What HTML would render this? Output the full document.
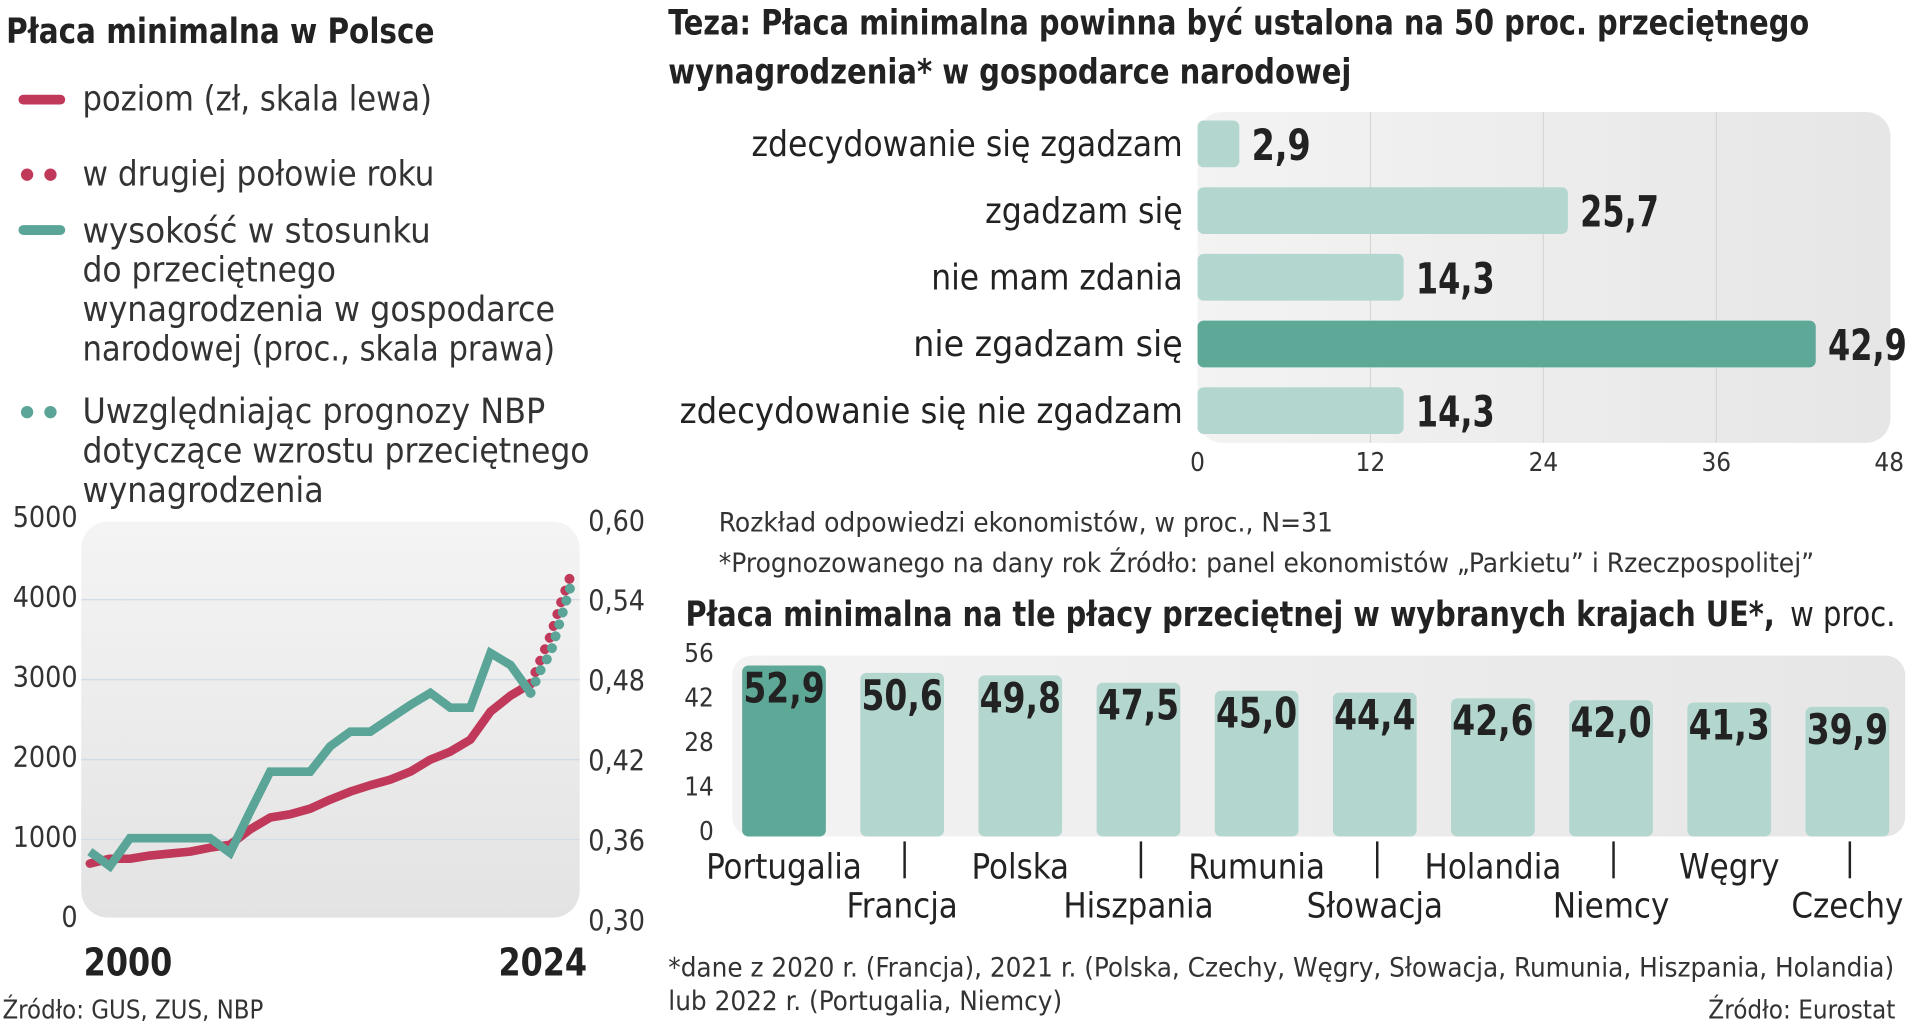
<!DOCTYPE html>
<html><head><meta charset="utf-8"><style>
html,body{margin:0;padding:0;background:#fff;}
svg{display:block;}
text{font-family:"Liberation Sans Narrow","DejaVu Sans Condensed","Liberation Sans",sans-serif;fill:#222;}
.b{font-weight:bold;}
.l{fill:#333;}
</style></head><body>
<svg id="root" width="1920" height="1021" viewBox="0 0 1560 830" preserveAspectRatio="none" xmlns="http://www.w3.org/2000/svg">
<defs>
<linearGradient id="bg" x1="0" y1="0" x2="0" y2="1"><stop offset="0" stop-color="#f4f4f4"/><stop offset="1" stop-color="#e3e3e3"/></linearGradient>
<linearGradient id="bg2" x1="0" y1="0" x2="1" y2="0"><stop offset="0" stop-color="#f3f3f3"/><stop offset="1" stop-color="#e6e6e6"/></linearGradient>
</defs>
<text class="b" x="5" y="35" font-size="28" textLength="348" lengthAdjust="spacingAndGlyphs">Płaca minimalna w Polsce</text>
<g>
 <line x1="19" y1="81" x2="49" y2="81" stroke="#c0395a" stroke-width="8" stroke-linecap="round"/>
 <text class="l" x="67" y="90" font-size="28" textLength="284" lengthAdjust="spacingAndGlyphs">poziom (zł, skala lewa)</text>
 <circle cx="22" cy="142" r="5" fill="#c0395a"/><circle cx="41" cy="142" r="5" fill="#c0395a"/>
 <text class="l" x="67" y="151" font-size="28" textLength="286" lengthAdjust="spacingAndGlyphs">w drugiej połowie roku</text>
 <line x1="19" y1="187" x2="49" y2="187" stroke="#5aa597" stroke-width="8" stroke-linecap="round"/>
 <text class="l" x="67" y="197" font-size="28" textLength="283" lengthAdjust="spacingAndGlyphs">wysokość w stosunku</text>
 <text class="l" x="67" y="229" font-size="28" textLength="206" lengthAdjust="spacingAndGlyphs">do przeciętnego</text>
 <text class="l" x="67" y="261" font-size="28" textLength="384" lengthAdjust="spacingAndGlyphs">wynagrodzenia w gospodarce</text>
 <text class="l" x="67" y="293" font-size="28" textLength="384" lengthAdjust="spacingAndGlyphs">narodowej (proc., skala prawa)</text>
 <circle cx="22" cy="335" r="5" fill="#5aa597"/><circle cx="41" cy="335" r="5" fill="#5aa597"/>
 <text class="l" x="67" y="344" font-size="28" textLength="376" lengthAdjust="spacingAndGlyphs">Uwzględniając prognozy NBP</text>
 <text class="l" x="67" y="376" font-size="28" textLength="412" lengthAdjust="spacingAndGlyphs">dotyczące wzrostu przeciętnego</text>
 <text class="l" x="67" y="408" font-size="28" textLength="196" lengthAdjust="spacingAndGlyphs">wynagrodzenia</text>
</g>
<rect x="66" y="424" width="405" height="322" rx="22" fill="url(#bg)"/>
<g id="lineChart"></g>
<text class="b" x="68" y="793" font-size="31" textLength="72" lengthAdjust="spacingAndGlyphs">2000</text>
<text class="b" x="405" y="793" font-size="31" textLength="72" lengthAdjust="spacingAndGlyphs">2024</text>
<text class="l" x="2" y="828" font-size="21" textLength="212" lengthAdjust="spacingAndGlyphs">Źródło: GUS, ZUS, NBP</text>

<text class="b" x="543" y="28" font-size="28" textLength="927" lengthAdjust="spacingAndGlyphs">Teza: Płaca minimalna powinna być ustalona na 50 proc. przeciętnego</text>
<text class="b" x="543" y="68" font-size="28" textLength="555" lengthAdjust="spacingAndGlyphs">wynagrodzenia* w gospodarce narodowej</text>
<rect x="973" y="91" width="563" height="269" rx="20" fill="url(#bg2)"/>
<g id="barChart"></g>
<text class="l" x="584" y="432" font-size="22" textLength="499" lengthAdjust="spacingAndGlyphs">Rozkład odpowiedzi ekonomistów, w proc., N=31</text>
<text class="l" x="584" y="465" font-size="22" textLength="890" lengthAdjust="spacingAndGlyphs">*Prognozowanego na dany rok Źródło: panel ekonomistów „Parkietu” i  Rzeczpospolitej”</text>

<text x="557" y="509" font-size="28"><tspan class="b" textLength="885" lengthAdjust="spacingAndGlyphs">Płaca minimalna na tle płacy przeciętnej w wybranych krajach UE*,</tspan><tspan x="1447" textLength="93" lengthAdjust="spacingAndGlyphs"> w proc.</tspan></text>
<rect x="595" y="533" width="953" height="147" rx="16" fill="url(#bg2)"/>
<g id="colChart"></g>
<text class="l" x="543" y="794" font-size="22" textLength="996" lengthAdjust="spacingAndGlyphs">*dane z 2020 r. (Francja), 2021 r. (Polska, Czechy, Węgry, Słowacja, Rumunia, Hiszpania, Holandia)</text>
<text class="l" x="543" y="821" font-size="22" textLength="320" lengthAdjust="spacingAndGlyphs">lub 2022 r. (Portugalia, Niemcy)</text>
<text class="l" x="1388" y="828" font-size="21" textLength="152" lengthAdjust="spacingAndGlyphs">Źródło:  Eurostat</text>
</svg>
<script>
const NS='http://www.w3.org/2000/svg';
const years=[2000,2001,2002,2003,2004,2005,2006,2007,2008,2009,2010,2011,2012,2013,2014,2015,2016,2017,2018,2019,2020,2021,2022];
const wageLevel=[700,760,760,800,824,849,899,936,1126,1276,1317,1386,1500,1600,1680,1750,1850,2000,2100,2250,2600,2800,2950];
const ratio=[0.351,0.340,0.361,0.361,0.361,0.361,0.361,0.350,0.381,0.411,0.411,0.411,0.430,0.441,0.441,0.451,0.461,0.470,0.459,0.459,0.500,0.491,0.470];
const forecastYears=[2022,2022.5,2023,2023.5,2024];
const wageForecast=[2950,3250,3550,3950,4300];
const ratioForecast=[0.470,0.487,0.500,0.525,0.550];
const leftTicks=[0,1000,2000,3000,4000,5000];
const rightTicks=['0,30','0,36','0,42','0,48','0,54','0,60'];
const answers=['zdecydowanie się zgadzam','zgadzam się','nie mam zdania','nie zgadzam się','zdecydowanie się nie zgadzam'];
const answerVals=[2.9,25.7,14.3,42.9,14.3];
const barTicks=[0,12,24,36,48];
const countries=['Portugalia','Francja','Polska','Hiszpania','Rumunia','Słowacja','Holandia','Niemcy','Węgry','Czechy'];
const euVals=[52.9,50.6,49.8,47.5,45.0,44.4,42.6,42.0,41.3,39.9];
const colTicks=[0,14,28,42,56];

function mk(tag,attrs,parent){const e=document.createElementNS(NS,tag);for(const k in attrs)e.setAttribute(k,attrs[k]);parent.appendChild(e);return e;}
function fmt(v){return v.toFixed(1).replace('.',',');}

const lc=document.getElementById('lineChart');
const xL=y=>73+(y-2000)*(463.6-73)/24;
const yL=v=>747.5-v*(325/5000);
const yR=v=>747.5-(v-0.30)*(325/0.30);
leftTicks.forEach((t,i)=>{
  if(t>0&&t<5000){const g=mk('line',{x1:66,x2:471,y1:yL(t),y2:yL(t),stroke:'#d3dbe6','stroke-width':1.2},lc);
  
  }
  const tx=mk('text',{x:63,y:yL(t)+6,'font-size':23,'text-anchor':'end',class:'l'},lc);tx.textContent=t;
  
  
  const tr=mk('text',{x:478,y:yL(t)+9,'font-size':23,class:'l'},lc);tr.textContent=rightTicks[i];
  
  
});
function path(xs,vs,yf){return xs.map((x,i)=>(i?'L':'M')+xL(x).toFixed(1)+','+yf(vs[i]).toFixed(1)).join(' ');}
const rd=mk('path',{d:path(forecastYears,wageForecast,yL),fill:'none',stroke:'#c0395a','stroke-width':8,'stroke-linecap':'round','stroke-dasharray':'0.1 10'},lc);


const rl=mk('path',{d:path(years,wageLevel,yL),fill:'none',stroke:'#c0395a','stroke-width':7,'stroke-linejoin':'round','stroke-linecap':'round'},lc);


const gd=mk('path',{d:path(forecastYears,ratioForecast,yR),fill:'none',stroke:'#5aa597','stroke-width':8,'stroke-linecap':'round','stroke-dasharray':'0.1 10'},lc);


const gl=mk('path',{d:path(years,ratio,yR),fill:'none',stroke:'#5aa597','stroke-width':7,'stroke-linejoin':'miter'},lc);



const bc=document.getElementById('barChart');
const xB=v=>973+v*(1535-973)/48;
barTicks.forEach(t=>{
  if(t>0&&t<48){const g=mk('line',{x1:xB(t),x2:xB(t),y1:91,y2:360,stroke:'#d6d6d6','stroke-width':1},bc);
  
  }
  const tx=mk('text',{x:xB(t),y:383,'font-size':21,'text-anchor':'middle',class:'l'},bc);tx.textContent=t;
  
  
});
answers.forEach((a,i)=>{
  const cy=117+i*54.2;
  const r=mk('rect',{x:973,y:cy-19,width:xB(answerVals[i])-973,height:38,rx:5,fill:i===3?'#5ea898':'#b3d6cf'},bc);
  
  
  const l=mk('text',{x:961,y:cy+10,'font-size':29,'text-anchor':'end',textLength:a.length*14.6,lengthAdjust:'spacingAndGlyphs'},bc);l.textContent=a;
  
  
  const s=fmt(answerVals[i]);
  const v=mk('text',{x:xB(answerVals[i])+10,y:cy+13,'font-size':35,class:'b',textLength:s.length*16,lengthAdjust:'spacingAndGlyphs'},bc);v.textContent=s;
  
  
});

const cc=document.getElementById('colChart');
const yC=v=>678-v*(145/56);
colTicks.forEach(t=>{
  const tx=mk('text',{x:580,y:yC(t)+5,'font-size':21,'text-anchor':'end',class:'l'},cc);tx.textContent=t;
  
  
});
countries.forEach((c,i)=>{
  const cx=637+i*96;
  const top=yC(euVals[i]);
  const r=mk('rect',{x:cx-34,y:top,width:68,height:678-top+2,rx:5,fill:i===0?'#5ea898':'#b3d6cf'},cc);
  
  
  const v=mk('text',{x:cx-33,y:top+30,'font-size':34,class:'b',textLength:66,lengthAdjust:'spacingAndGlyphs'},cc);v.textContent=fmt(euVals[i]);
  
  
  const l=mk('text',{x:cx,y:(i%2?746:714),'font-size':28,'text-anchor':'middle'},cc);l.textContent=c;
  
  
  if(i%2){const s=mk('line',{x1:cx+2,x2:cx+2,y1:684,y2:714,stroke:'#222','stroke-width':2},cc);
  
  }
});
</script>
</body></html>
